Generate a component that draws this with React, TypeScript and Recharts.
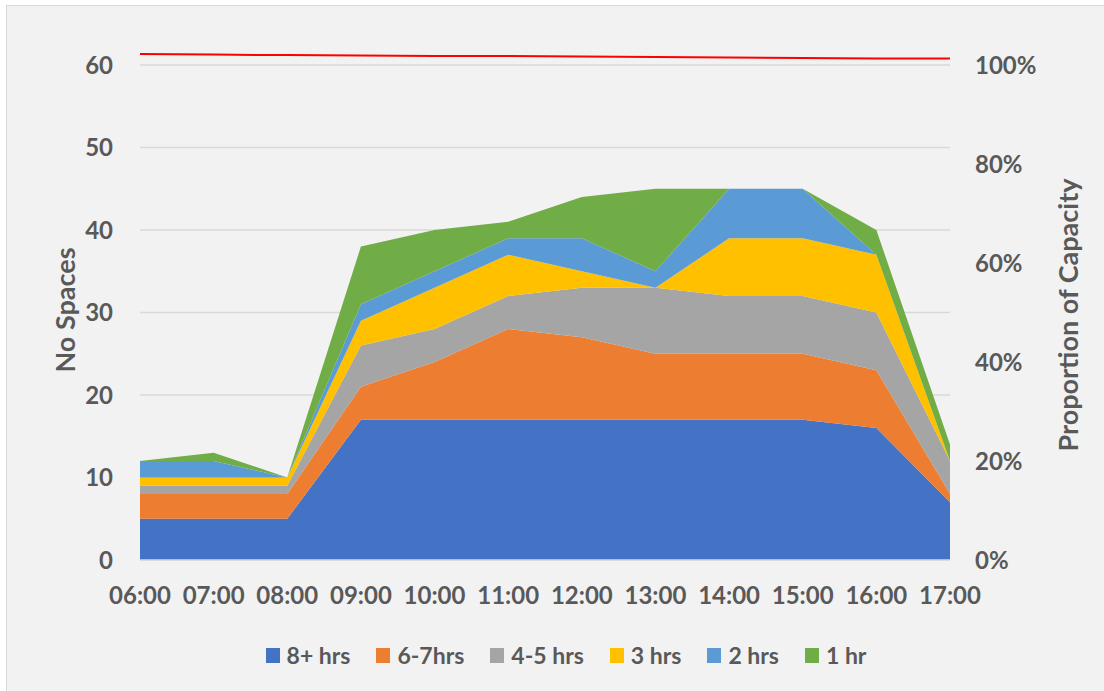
import { ComposedChart, Area, Line, XAxis, YAxis, CartesianGrid, Legend } from "recharts";

const times = ["06:00", "07:00", "08:00", "09:00", "10:00", "11:00", "12:00", "13:00", "14:00", "15:00", "16:00", "17:00"];
const hrs8 = [5, 5, 5, 17, 17, 17, 17, 17, 17, 17, 16, 7];
const hrs67 = [3, 3, 3, 4, 7, 11, 10, 8, 8, 8, 7, 1];
const hrs45 = [1, 1, 1, 5, 4, 4, 6, 8, 7, 7, 7, 4];
const hrs3 = [1, 1, 1, 3, 5, 5, 2, 0, 7, 7, 7, 0];
const hrs2 = [2, 2, 0, 2, 2, 2, 4, 2, 6, 6, 0, 0];
const hrs1 = [0, 1, 0, 7, 5, 2, 5, 10, 0, 0, 3, 2];
// red capacity line, read against the right axis
const capacity = [1.022, 1.021, 1.02, 1.019, 1.018, 1.018, 1.017, 1.016, 1.015, 1.014, 1.013, 1.013];

const leftTicks = [0, 10, 20, 30, 40, 50, 60];
const rightTicks = [0, 0.2, 0.4, 0.6, 0.8, 1];

const series = [
  { key: "h8", name: "8+ hrs", color: "#4472C4" },
  { key: "h67", name: "6-7hrs", color: "#ED7D31" },
  { key: "h45", name: "4-5 hrs", color: "#A5A5A5" },
  { key: "h3", name: "3 hrs", color: "#FFC000" },
  { key: "h2", name: "2 hrs", color: "#5B9BD5" },
  { key: "h1", name: "1 hr", color: "#70AD47" },
];

const data = times.map((t, i) => ({
  time: t,
  h8: hrs8[i],
  h67: hrs67[i],
  h45: hrs45[i],
  h3: hrs3[i],
  h2: hrs2[i],
  h1: hrs1[i],
  cap: capacity[i],
}));

const FONT = "Lato, 'Open Sans', sans-serif";
const TXT = "#595959";
const tickStyle = { fontFamily: FONT, fontSize: 24, fontWeight: 700, fill: TXT };
const titleStyle = { fontFamily: FONT, fontSize: 27, fontWeight: 700, fill: TXT };

function LegendBox() {
  return (
    <div style={{ display: "flex", justifyContent: "center", alignItems: "center", height: 30, paddingLeft: 54, fontFamily: FONT, fontSize: 23, fontWeight: 700, color: TXT }}>
      {series.map((s) => (
        <div key={s.key} style={{ display: "flex", alignItems: "center", marginRight: 26 }}>
          <span style={{ display: "inline-block", width: 14, height: 15, background: s.color, marginRight: 7 }} />
          <span>{s.name}</span>
        </div>
      ))}
    </div>
  );
}

export default function App() {
  return (
    <div style={{ position: "absolute", left: 0, top: 0, width: 1104, height: 691, background: "#fff", overflow: "hidden" }}>
      <div style={{ position: "absolute", left: 6, top: 5, width: 1120, height: 700, background: "#F2F2F2", border: "1px solid #D9D9D9" }} />
      <div style={{ position: "absolute", left: 0, top: 0 }}>
        <ComposedChart width={1104} height={691} data={data} margin={{ top: 48.5, right: 0, left: 0, bottom: 21 }}>
          <CartesianGrid
            yAxisId="left"
            vertical={false}
            stroke="#D9D9D9"
            strokeWidth={1.5}
            horizontalValues={leftTicks}
          />
          <XAxis
            dataKey="time"
            scale="point"
            height={80}
            tickLine={false}
            tickMargin={21}
            axisLine={{ stroke: "#D9D9D9", strokeWidth: 1.5 }}
            tick={tickStyle}
            interval={0}
          />
          <YAxis
            yAxisId="left"
            width={140}
            domain={[0, 62]}
            ticks={leftTicks}
            tickLine={false}
            axisLine={false}
            tickMargin={21}
            tick={tickStyle}
            label={{
              content: () => (
                <text x={64} y={310} transform="rotate(-90 64 310)" textAnchor="middle" dominantBaseline="central" style={titleStyle}>
                  No Spaces
                </text>
              ),
            }}
          />
          <YAxis
            yAxisId="right"
            orientation="right"
            width={154}
            domain={[0, 62 / 60]}
            ticks={rightTicks}
            tickFormatter={(v: number) => `${Math.round(v * 100)}%`}
            tickLine={false}
            axisLine={false}
            tickMargin={19}
            tick={tickStyle}
            label={{
              content: () => (
                <text x={1067} y={315} transform="rotate(-90 1067 315)" textAnchor="middle" dominantBaseline="central" style={titleStyle}>
                  Proportion of Capacity
                </text>
              ),
            }}
          />
          {series.map((s) => (
            <Area
              key={s.key}
              yAxisId="left"
              type="linear"
              dataKey={s.key}
              name={s.name}
              stackId="a"
              fill={s.color}
              fillOpacity={1}
              stroke="none"
              isAnimationActive={false}
            />
          ))}
          <Line yAxisId="right" type="linear" dataKey="cap" stroke="#FF0000" strokeWidth={2} dot={false} activeDot={false} legendType="none" isAnimationActive={false} />
          <Legend verticalAlign="bottom" content={() => <LegendBox />} />
        </ComposedChart>
      </div>
    </div>
  );
}
